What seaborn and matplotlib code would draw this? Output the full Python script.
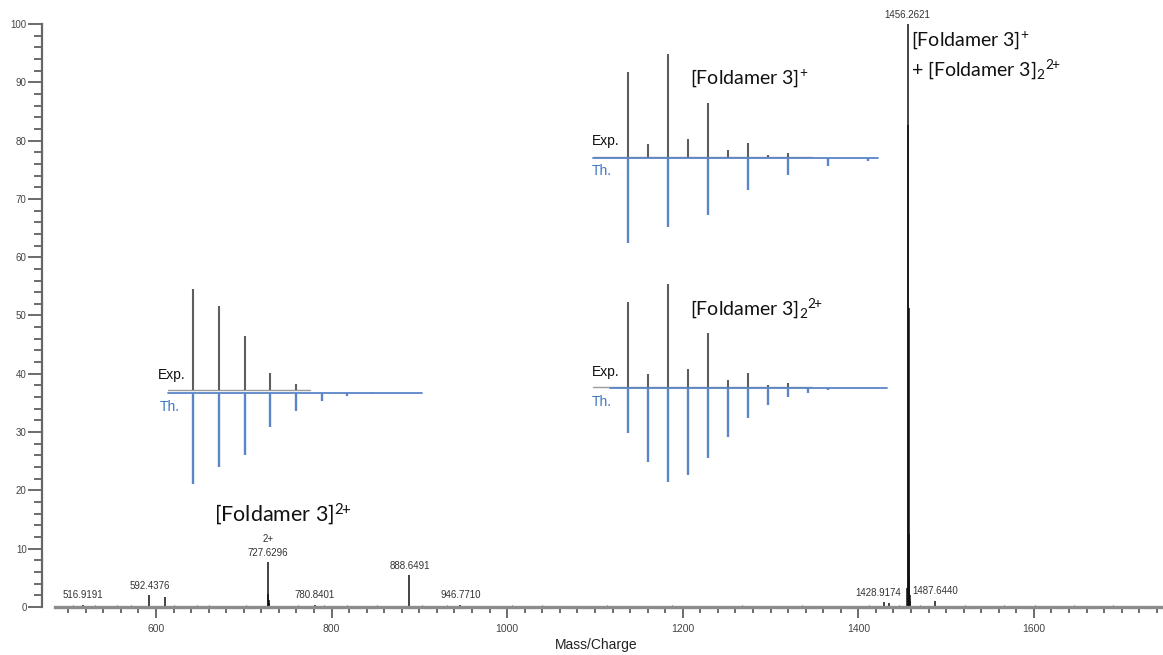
import matplotlib
matplotlib.use("Agg")
import matplotlib.pyplot as plt
from matplotlib.ticker import MultipleLocator
import seaborn as sns
import pandas as pd

# ---------------- data ----------------
# main spectrum: labelled / visible peaks (m/z, relative intensity %)
peak_mz = [516.92, 592.44, 610.6, 727.63, 728.13, 728.63, 729.13,
           780.84, 888.65, 946.77, 1428.92, 1435.4,
           1455.76, 1456.26, 1456.76, 1457.26, 1457.76, 1458.26, 1458.76,
           1459.26, 1487.64]
peak_int = [0.4, 2.1, 1.7, 7.7, 2.2, 1.2, 0.6,
            0.4, 5.5, 0.4, 0.8, 0.7,
            3.3, 100.0, 82.7, 51.3, 12.5, 5.0, 2.0,
            1.0, 1.1]

# low-level background signals along the baseline
noise_mz = [498, 505, 522, 531, 547, 556, 563, 571, 580, 621, 640, 647, 653,
            660, 668, 684, 702, 744, 762, 773, 791, 808, 818, 833, 852, 872,
            903, 915, 931, 958, 979, 1005, 1022, 1040, 1068, 1093, 1114,
            1139, 1162, 1188, 1215, 1241, 1268, 1289, 1312, 1336, 1358, 1382,
            1412, 1446, 1470, 1503, 1521, 1548, 1566, 1582, 1601, 1623, 1646,
            1668, 1690, 1712, 1734]
noise_int = [0.2, 0.3, 0.2, 0.3, 0.2, 0.3, 0.2, 0.3, 0.2, 0.3, 0.2, 0.3, 0.2,
             0.3, 0.2, 0.2, 0.3, 0.2, 0.3, 0.2, 0.3, 0.2, 0.3, 0.2, 0.3, 0.2,
             0.3, 0.2, 0.3, 0.2, 0.2, 0.3, 0.2, 0.3, 0.2, 0.2, 0.3, 0.2,
             0.2, 0.3, 0.2, 0.2, 0.3, 0.2, 0.2, 0.3, 0.2, 0.2, 0.3,
             0.3, 0.3, 0.2, 0.3, 0.2, 0.3, 0.2, 0.3, 0.2, 0.3,
             0.2, 0.3, 0.2, 0.2]

label_mz = [516.9191, 592.4376, 727.6296, 780.8401, 888.6491, 946.7710,
            1428.9174, 1456.2621, 1487.6440]
label_h = [0.4, 2.1, 7.7, 0.4, 5.5, 0.4, 0.8, 100.0, 1.1]

# isotope patterns of the insets (relative intensity %)
dication_exp_mz = [727.63, 728.13, 728.63, 729.13, 729.63]
dication_exp_int = [100, 83, 53, 17, 6]
dication_th_mz = [727.63, 728.13, 728.63, 729.13, 729.63, 730.13, 730.63, 731.13]
dication_th_int = [100, 81, 68, 37, 20, 9, 3, 1]

cluster_exp_mz = [1456.26, 1456.76, 1457.26, 1457.76, 1458.26, 1458.76,
                  1459.26, 1459.76, 1460.26]
cluster_exp_int = [83, 13, 100, 17, 52, 7, 14, 2, 4]
monomer_th_mz = [1456.26, 1457.26, 1458.26, 1459.26, 1460.26, 1461.26, 1462.26]
monomer_th_int = [100, 81, 67, 38, 20, 9, 4]
dimer_th_mz = [1456.26, 1456.76, 1457.26, 1457.76, 1458.26, 1458.76, 1459.26,
               1459.76, 1460.26, 1460.76, 1461.26, 1461.76]
dimer_th_int = [48, 79, 100, 93, 74, 52, 32, 18, 10, 5, 2, 1]

# ---------------- style ----------------
sns.set_theme(style="ticks")
plt.rcParams["font.family"] = ["Liberation Sans", "DejaVu Sans"]
plt.rcParams["mathtext.fontset"] = "custom"
plt.rcParams["mathtext.rm"] = "Lato"
plt.rcParams["mathtext.it"] = "Lato:italic"
plt.rcParams["mathtext.bf"] = "Lato:bold"

W, H = 1163, 655
fig = plt.figure(figsize=(W / 100, H / 100), dpi=100)
fig.patch.set_facecolor("white")


def px_axes(x0, y0, x1, y1):
    """Axes placed by pixel box (top-left origin)."""
    return fig.add_axes([x0 / W, 1 - y1 / H, (x1 - x0) / W, (y1 - y0) / H])


def px_text(x, y, s, **kw):
    fig.text(x / W, 1 - y / H, s, **kw)


# ---------------- main spectrum ----------------
ax = px_axes(55, 24, 1163, 609)
ax.set_xlim(485, 1747)
ax.set_ylim(-0.35, 100)
ax.patch.set_visible(False)

noise = pd.DataFrame({"mz": noise_mz, "int": noise_int})
peaks = pd.DataFrame({"mz": peak_mz, "int": peak_int})
ax.vlines(noise["mz"], 0, noise["int"], color="#555555", lw=0.8)
ax.vlines(peaks["mz"], 0, peaks["int"], color="#111111", lw=1.1)

for mz, h in zip(label_mz, label_h):
    dx = -4 if mz == 1428.9174 else 0
    ax.annotate(f"{mz:.4f}", (mz, h), xytext=(dx, 3), textcoords="offset points",
                ha="center", va="bottom", fontsize=7, color="#333333",
                annotation_clip=False)
ax.annotate("2+", (727.6296, 7.7), xytext=(0, 13), textcoords="offset points",
            ha="center", va="bottom", fontsize=7, color="#333333")

sns.despine(ax=ax, top=True, right=True)
ax.spines["left"].set_position(("outward", 9.4))
ax.spines["left"].set_bounds(0, 100)
ax.spines["left"].set_color("#666666")
ax.spines["left"].set_linewidth(1.6)
ax.spines["bottom"].set_position(("data", 0))
ax.spines["bottom"].set_color("#8c8c8c")
ax.spines["bottom"].set_linewidth(2.4)

ax.yaxis.set_major_locator(MultipleLocator(10))
ax.yaxis.set_minor_locator(MultipleLocator(2))
ax.xaxis.set_major_locator(MultipleLocator(200))
ax.xaxis.set_minor_locator(MultipleLocator(20))
ax.tick_params(axis="y", which="major", length=10, width=1.1, color="#444444",
               labelsize=7, labelcolor="#444444", pad=1)
ax.tick_params(axis="y", which="minor", length=5.5, width=1.1, color="#444444")
ax.tick_params(axis="x", which="major", length=8, width=1.1, color="#444444",
               labelsize=7.5, labelcolor="#444444", pad=4)
ax.tick_params(axis="x", which="minor", length=4, width=1.1, color="#444444")
ax.set_xlabel("Mass/Charge", fontsize=10, color="#222222")
ax.xaxis.set_label_coords(0.488, -0.05)

# ---------------- inset helpers ----------------
EXP_C = "#5e5e5e"
EXP_BASE = "#9a9a9a"
TH_C = "#5a86c8"


def stems(box, xlim, mz, vals, base_to, color, lw, upward=True, base_from=None):
    a = px_axes(*box)
    a.set_xlim(*xlim)
    a.set_ylim((0, 100) if upward else (-100, 0))
    a.set_axis_off()
    a.patch.set_visible(False)
    start = xlim[0] if base_from is None else base_from
    base = pd.DataFrame({"x": [start, base_to], "y": [0, 0]})
    sns.lineplot(data=base, x="x", y="y", ax=a,
                 color=EXP_BASE if upward else color,
                 lw=1.0 if upward else 1.3, clip_on=False, legend=False)
    sign = 1 if upward else -1
    a.vlines(mz, 0, [sign * v for v in vals], color=color, lw=lw, clip_on=False)
    return a


# [Foldamer 3]2+ inset
stems((168, 289, 422, 390), (727.14, 732.08), dication_exp_mz, dication_exp_int,
      729.91, EXP_C, 1.5)
stems((168, 393, 422, 484), (727.14, 732.08), dication_th_mz, dication_th_int,
      732.08, TH_C, 1.7, upward=False)
px_text(158, 375, "Exp.", fontsize=10, color="#111111", va="center")
px_text(160, 407, "Th.", fontsize=10, color="#3d78c4", va="center")

# [Foldamer 3]+ inset
stems((593, 54, 878, 157), (1455.385, 1462.51), cluster_exp_mz, cluster_exp_int,
      1460.86, EXP_C, 1.5)
stems((593, 158, 878, 243), (1455.385, 1462.51), monomer_th_mz, monomer_th_int,
      1462.51, TH_C, 1.7, upward=False)
px_text(592, 141, "Exp.", fontsize=10, color="#111111", va="center")
px_text(592, 171, "Th.", fontsize=10, color="#3d78c4", va="center")

# [Foldamer 3]2 2+ inset
stems((593, 284, 887, 387), (1455.385, 1462.735), cluster_exp_mz, cluster_exp_int,
      1460.86, EXP_C, 1.5)
stems((593, 388, 887, 482), (1455.385, 1462.735), dimer_th_mz, dimer_th_int,
      1462.735, TH_C, 1.7, upward=False, base_from=1455.81)
px_text(592, 372, "Exp.", fontsize=10, color="#111111", va="center")
px_text(592, 402, "Th.", fontsize=10, color="#3d78c4", va="center")

# ---------------- species labels ----------------
FAM = ["Lato", "DejaVu Sans"]
SUP2 = r"$^{\mathregular{2}\!\mathregular{+}}$"
SUP1 = r"$^{\mathregular{+}}$"
SUB2 = r"$_{\mathregular{2}}$"
px_text(214, 514, "[Foldamer 3]" + SUP2, fontsize=15.5, color="#111111",
        family=FAM, va="center")
px_text(690, 78, "[Foldamer 3]" + SUP1, fontsize=14, color="#111111",
        family=FAM, va="center")
px_text(690, 308, "[Foldamer 3]" + SUB2 + SUP2, fontsize=14, color="#111111",
        family=FAM, va="center")
px_text(911, 40, "[Foldamer 3]" + SUP1, fontsize=14, color="#111111",
        family=FAM, va="center")
px_text(911, 69, "+ [Foldamer 3]" + SUB2 + SUP2, fontsize=14, color="#111111",
        family=FAM, va="center")

fig.savefig("out.png", dpi=100, facecolor="white")
